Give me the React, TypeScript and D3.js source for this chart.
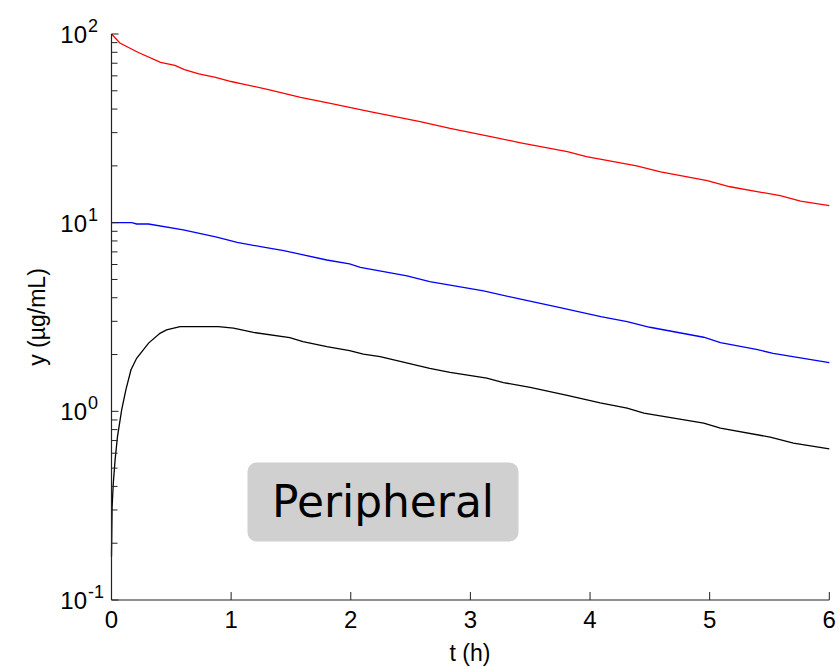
import React from "react";
import * as d3 from "d3";

const redT = [0, 0.07, 0.22, 0.41, 0.53, 0.61, 0.73, 0.87, 1.0, 1.1, 1.33, 1.58, 1.83, 2.16, 2.58, 2.83, 3.17, 3.42, 3.81, 3.97, 4.39, 4.59, 4.98, 5.17, 5.59, 5.76, 6.0];
const redV = [100, 89.6, 80, 70.8, 68.2, 64.7, 61.4, 58.9, 56, 54.3, 50.4, 46.2, 42.9, 38.8, 34.3, 31.6, 28.6, 26.5, 23.8, 22.4, 20.0, 18.6, 16.7, 15.5, 13.9, 13.0, 12.3];

const blueT = [0, 0.17, 0.21, 0.31, 0.6, 0.88, 1.05, 1.27, 1.44, 1.8, 1.99, 2.08, 2.47, 2.66, 3.11, 3.42, 3.75, 4.09, 4.31, 4.5, 4.95, 5.09, 5.39, 5.53, 6.0];
const blueV = [10, 10, 9.84, 9.84, 9.15, 8.38, 7.87, 7.41, 7.11, 6.34, 6.04, 5.8, 5.22, 4.87, 4.35, 3.93, 3.55, 3.18, 2.99, 2.79, 2.47, 2.31, 2.13, 2.03, 1.81];

const blackT = [0, 0.005, 0.015, 0.03, 0.05, 0.085, 0.12, 0.163, 0.21, 0.31, 0.405, 0.46, 0.573, 0.893, 1.02, 1.186, 1.49, 1.6, 1.8, 1.99, 2.105, 2.245, 2.66, 2.83, 3.137, 3.276, 3.5, 3.8, 4.085, 4.31, 4.45, 4.95, 5.09, 5.506, 5.7, 6.0];
const blackV = [0.17, 0.31, 0.416, 0.553, 0.734, 1.017, 1.3, 1.66, 1.91, 2.3, 2.59, 2.7, 2.81, 2.81, 2.76, 2.62, 2.46, 2.34, 2.2, 2.1, 2.01, 1.95, 1.69, 1.61, 1.5, 1.42, 1.34, 1.22, 1.11, 1.04, 0.977, 0.865, 0.814, 0.73, 0.678, 0.632];

const xTicks = [0, 1, 2, 3, 4, 5, 6];
const yDecades = [-1, 0, 1, 2];
const boxLabel = "Peripheral";
const xLabel = "t (h)";
const yLabel = "y (µg/mL)";

export default function App() {
  const W = 839, H = 668;
  const left = 111.5, right = 829.3, top = 34, bottom = 600;
  const x = d3.scaleLinear().domain([0, 6]).range([left, right]);
  const y = d3.scaleLog().domain([0.1, 100]).range([bottom, top]);

  const mk = (ts: number[], vs: number[]) =>
    d3.line<number>().x((_, i) => x(ts[i])).y((v) => y(v))(vs) || "";

  const minor: number[] = [];
  for (const d of [-1, 0, 1]) {
    for (let k = 2; k <= 9; k++) minor.push(k * Math.pow(10, d));
  }

  const font = "Liberation Sans, Arial, sans-serif";

  return (
    <svg width={W} height={H} style={{ position: "absolute", left: 0, top: 0, background: "#fff" }}>
      <path d={mk(redT, redV)} fill="none" stroke="#ff0000" strokeWidth={1.3} />
      <path d={mk(blueT, blueV)} fill="none" stroke="#0000ff" strokeWidth={1.3} />
      <path d={mk(blackT, blackV)} fill="none" stroke="#000" strokeWidth={1.3} />

      <line x1={left} x2={left} y1={top} y2={bottom} stroke="#222" strokeWidth={1.2} />
      <line x1={left} x2={right} y1={bottom} y2={bottom} stroke="#222" strokeWidth={1.2} />

      {xTicks.map((t) => (
        <g key={"xt" + t}>
          <line x1={x(t)} x2={x(t)} y1={bottom} y2={bottom - 8} stroke="#222" strokeWidth={1} />
          <text x={x(t)} y={628} textAnchor="middle" fontFamily={font} fontSize={24} fill="#000">
            {t}
          </text>
        </g>
      ))}

      {yDecades.map((d) => (
        <g key={"yd" + d}>
          <line x1={left} x2={left + 7} y1={y(Math.pow(10, d))} y2={y(Math.pow(10, d))} stroke="#222" strokeWidth={1} />
          <text x={87} y={y(Math.pow(10, d)) + 9} textAnchor="end" fontFamily={font} fontSize={24} fill="#000">
            10
          </text>
          <text x={88} y={y(Math.pow(10, d)) - 2} textAnchor="start" fontFamily={font} fontSize={18} fill="#000">
            {d}
          </text>
        </g>
      ))}

      {minor.map((m) => (
        <line key={"mn" + m} x1={left} x2={left + 6} y1={y(m)} y2={y(m)} stroke="#222" strokeWidth={1} />
      ))}

      <text x={470} y={661} textAnchor="middle" fontFamily={font} fontSize={23} fill="#000">
        {xLabel}
      </text>
      <text
        transform={`translate(45,${(top + bottom) / 2}) rotate(-90)`}
        textAnchor="middle"
        fontFamily={font}
        fontSize={23}
        fill="#000"
      >
        {yLabel}
      </text>

      <rect x={247.5} y={462.5} width={271} height={79} rx={9} ry={9} fill="#d0d0d0" />
      <text
        x={272}
        y={516.5}
        fontFamily="'Comic Sans MS', 'DejaVu Sans', sans-serif"
        fontSize={45}
        textLength={222}
        lengthAdjust="spacingAndGlyphs"
        fill="#000"
      >
        {boxLabel}
      </text>
    </svg>
  );
}
